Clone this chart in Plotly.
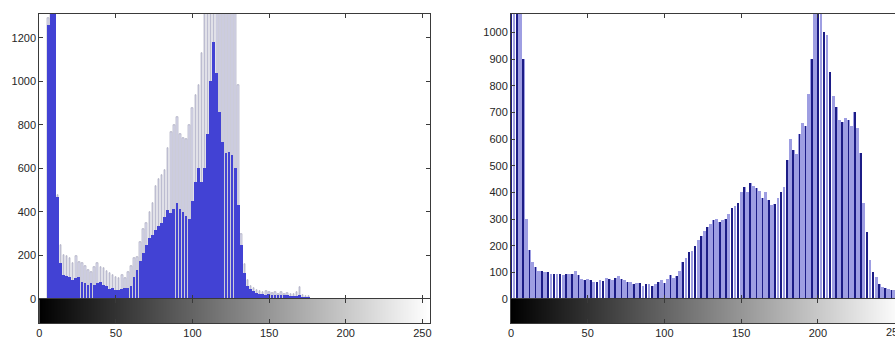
import plotly.graph_objects as go

# ---------------- data ----------------
left_levels = list(range(0, 180, 2))
left_peaks = [
    0, 0, 0, 1290, 1500, 1500, 480, 248, 200, 198,
    187, 164, 198, 172, 164, 150, 133, 126, 149, 164,
    149, 141, 130, 118, 110, 100, 95, 110, 95, 126,
    150, 188, 193, 260, 320, 350, 400, 440, 520, 550,
    570, 593, 694, 769, 800, 838, 760, 740, 735, 800,
    880, 940, 984, 1130, 1500, 1500, 1500, 1500, 1500, 1500,
    1500, 1500, 1500, 1500, 1500, 984, 300, 160, 87, 60,
    50, 40, 35, 30, 35, 30, 28, 32, 25, 30,
    25, 28, 25, 22, 30, 55, 20, 15, 15, 0,
]
left_counts = [
    0, 0, 0, 1260, 1500, 1500, 470, 164, 110, 106,
    103, 87, 95, 103, 80, 75, 64, 72, 64, 72,
    80, 64, 60, 45, 49, 41, 41, 44, 49, 49,
    60, 101, 133, 175, 210, 250, 280, 295, 315, 335,
    350, 378, 409, 394, 415, 441, 415, 400, 380, 370,
    450, 540, 600, 539, 600, 760, 1000, 1183, 1040, 860,
    720, 671, 677, 660, 600, 430, 250, 120, 60, 45,
    35, 28, 25, 22, 20, 22, 20, 20, 18, 18,
    18, 18, 15, 15, 15, 18, 10, 8, 8, 0,
]

right_levels = list(range(0, 256, 2))
right_counts = [
    1500, 1500, 1500, 1500, 900, 300, 185, 140, 120, 105,
    105, 100, 100, 95, 95, 92, 92, 90, 95, 95,
    92, 105, 90, 75, 72, 75, 70, 65, 62, 70,
    68, 80, 75, 72, 80, 85, 75, 70, 65, 65,
    55, 60, 60, 50, 55, 55, 50, 55, 62, 70,
    60, 75, 90, 80, 85, 105, 140, 155, 175, 180,
    200, 220, 235, 255, 270, 280, 295, 300, 290, 295,
    300, 320, 340, 350, 360, 400, 421, 400, 434, 425,
    415, 405, 380, 402, 370, 352, 355, 378, 402, 420,
    521, 600, 560, 545, 620, 660, 650, 770, 900, 1500,
    1500, 1500, 1000, 990, 850, 760, 720, 670, 665, 680,
    670, 650, 700, 640, 547, 360, 250, 146, 100, 84,
    55, 46, 40, 36, 34, 32, 30, 28,
]

gray_levels = list(range(256))
x_ticks = [0, 50, 100, 150, 200, 250]
left_y_ticks = [0, 200, 400, 600, 800, 1000, 1200]
right_y_ticks = [0, 100, 200, 300, 400, 500, 600, 700, 800, 900, 1000]

# ---------------- geometry ----------------
W, H = 895, 338
def px_x(p):
    return p / W
def px_y(p):
    return 1 - p / H

LINE = "#3a3a3a"
FONT = dict(family="Liberation Sans, Arial, sans-serif", size=11, color="#262626")

fig = go.Figure()

# left histogram
fig.add_trace(go.Bar(x=left_levels, y=left_peaks, width=1.0,
                     marker=dict(color="#e2e2f2", line=dict(color="#9c9cb2", width=0.6)),
                     xaxis="x", yaxis="y", hoverinfo="skip"))
fig.add_trace(go.Bar(x=left_levels, y=left_counts, width=1.8,
                     marker=dict(color="#4242d4", line=dict(width=0)),
                     xaxis="x", yaxis="y", hoverinfo="skip"))
fig.add_trace(go.Heatmap(x=gray_levels, y=[0, 1], z=[gray_levels, gray_levels],
                         colorscale=[[0, "black"], [1, "white"]], zmin=0, zmax=255,
                         showscale=False, xaxis="x2", yaxis="y2", hoverinfo="skip"))

# right histogram
fig.add_trace(go.Bar(x=right_levels, y=right_counts, width=1.8,
                     marker=dict(color="#9e9ee2", line=dict(width=0)),
                     xaxis="x3", yaxis="y3", hoverinfo="skip"))
fig.add_trace(go.Bar(x=right_levels[::2], y=right_counts[::2], width=0.5,
                     marker=dict(color="#1c1c86", line=dict(width=0)),
                     xaxis="x3", yaxis="y3", hoverinfo="skip"))
fig.add_trace(go.Heatmap(x=gray_levels, y=[0, 1], z=[gray_levels, gray_levels],
                         colorscale=[[0, "black"], [1, "white"]], zmin=0, zmax=255,
                         showscale=False, xaxis="x4", yaxis="y4", hoverinfo="skip"))

left_dom = [px_x(39.3), px_x(430)]
right_dom = [px_x(511), 1.0]
hist_dom = [px_y(299), px_y(14)]
bar_dom = [px_y(323), px_y(299)]

common_x = dict(showgrid=False, zeroline=False, showline=True, linecolor=LINE, linewidth=1,
                ticks="inside", ticklen=4, tickcolor=LINE, tickvals=x_ticks,
                mirror="ticks", tickfont=FONT, automargin=False)
common_y = dict(showgrid=False, zeroline=False, showline=True, linecolor=LINE, linewidth=1,
                ticks="inside", ticklen=4, tickcolor=LINE, tickfont=FONT, automargin=False)

fig.update_layout(
    width=W, height=H, autosize=False,
    margin=dict(l=0, r=0, t=0, b=0, autoexpand=False),
    paper_bgcolor="white", plot_bgcolor="white",
    showlegend=False, barmode="overlay", bargap=0,
    xaxis=dict(common_x, domain=left_dom, range=[0, 255], anchor="y", showticklabels=False),
    yaxis=dict(common_y, domain=hist_dom, range=[0, 1310], anchor="x",
               tickvals=left_y_ticks, mirror="ticks"),
    xaxis2=dict(common_x, domain=left_dom, range=[0, 255], anchor="y2", showticklabels=True),
    yaxis2=dict(common_y, domain=bar_dom, range=[0, 1], anchor="x2",
                tickvals=[], showticklabels=False, mirror=True),
    xaxis3=dict(common_x, domain=right_dom, range=[0, 250.3], anchor="y3", showticklabels=False),
    yaxis3=dict(common_y, domain=hist_dom, range=[0, 1069], anchor="x3",
                tickvals=right_y_ticks, mirror=False),
    xaxis4=dict(common_x, domain=right_dom, range=[0, 250.3], anchor="y4", showticklabels=True),
    yaxis4=dict(common_y, domain=bar_dom, range=[0, 1], anchor="x4",
                tickvals=[], showticklabels=False, mirror=False),
)

# the last x label of the right panel is cut by the picture edge, as in the reference
fig.add_annotation(x=x_ticks[-1], xref="x4", y=px_y(323), yref="paper",
                   yanchor="top", yshift=-1, text=str(x_ticks[-1]), showarrow=False,
                   font=FONT, xanchor="center")

fig.write_html("out.html")
